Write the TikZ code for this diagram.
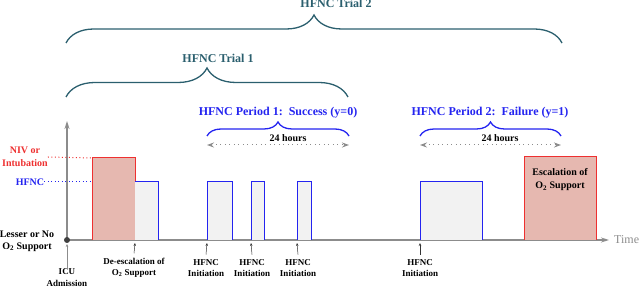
\documentclass[tikz,border=0pt]{standalone}
\usepackage{fontspec}
\setmainfont{Liberation Serif}
\usetikzlibrary{positioning}
\usetikzlibrary{arrows.meta}
\usetikzlibrary{decorations.pathreplacing}

\definecolor{trialc}{HTML}{2B5F6E}
\definecolor{hfncblue}{HTML}{2424F0}
\definecolor{nivred}{HTML}{EE3030}
\definecolor{nivfill}{HTML}{E6B8B0}
\definecolor{hfncfill}{HTML}{F2F2F2}
\definecolor{axisgray}{HTML}{8C8C8C}

\begin{document}
\begin{tikzpicture}[x=1pt,y=-1pt,
  every node/.style={font=\bfseries\fontsize{10}{13}\selectfont,align=center,inner sep=0pt},
  small/.style={font=\bfseries\fontsize{9}{10.5}\selectfont},
  big/.style={font=\bfseries\fontsize{12}{14}\selectfont},
  trialbrace/.style={decorate,decoration={brace,amplitude=#1},draw=trialc,line width=1.3pt},
  periodbrace/.style={decorate,decoration={brace,amplitude=14pt},draw=hfncblue,line width=1.3pt},
  hfncbox/.style={fill=hfncfill,draw=hfncblue,line width=1pt},
  nivbox/.style={fill=nivfill,draw=nivred,line width=1pt},
  lvl/.style={line width=1pt,dash pattern=on 1pt off 2.5pt},
  hrs/.style={axisgray,line width=1pt,dash pattern=on 1pt off 3.5pt,{Stealth[length=7pt,width=5pt]}-{Stealth[length=7pt,width=5pt]}},
  tick/.style={-{Stealth[length=3pt,width=2.5pt]},line width=0.5pt,black!80}]
			\useasboundingbox (0,0) rectangle (640,288);
			% axes
			\coordinate (o) at (67,240);
			\coordinate (tm) at (609,240);
			\coordinate (up) at (67,121);
			\draw[axisgray,line width=1.3pt,-{Stealth[length=8pt,width=5pt]}] (o) -- (tm);
			\draw[axisgray,line width=1.3pt,-{Stealth[length=8pt,width=5pt]}] (o) -- (up);
			\node[anchor=west,font=\fontsize{12}{14}\selectfont,text=axisgray,right=5pt of tm] (time) {Time};
			\fill[black!75] (o) circle (3pt);
			% levels
			\node[text=nivred] (niv) at (25,157) {NIV or\\Intubation};
			\node[text=hfncblue] (hf) at (30,182) {HFNC};
			\node[font=\bfseries\fontsize{10}{12}\selectfont] (low) at (27,241) {Lesser or No\\O\textsubscript{2} Support};
			\draw[nivred,lvl] (niv.east) -- (92,158);
			\draw[hfncblue,lvl] (hf.east) -- (135,182);
			% boxes
			\fill[nivfill] (92,158) rectangle (135,240);
			\fill[hfncfill] (135,182) rectangle (158,240);
			\draw[nivred,line width=1pt] (92,240) -- (92,158) -- (135,158) -- (135,182);
			\draw[hfncblue,line width=1pt] (135,182) -- (158,182) -- (158,240);
			\filldraw[hfncbox] (207,240) -- (207,182) -- (232,182) -- (232,240);
			\filldraw[hfncbox] (251,240) -- (251,182) -- (264,182) -- (264,240);
			\filldraw[hfncbox] (297,240) -- (297,182) -- (311,182) -- (311,240);
			\filldraw[hfncbox] (420,240) -- (420,182) -- (482,182) -- (482,240);
			\filldraw[nivbox] (524,240) -- (524,157) -- (596,157) -- (596,240);
			\node (esc) at (560,180) {Escalation of\\O\textsubscript{2} Support};
			% bottom labels
			\node[small,font=\bfseries\fontsize{9}{12}\selectfont] (icu) at (67,278) {ICU\\Admission};
			\node[small] (de) at (134,268) {De-escalation of\\O\textsubscript{2} Support};
			\node[small] (i1) at (206,268) {HFNC\\Initiation};
			\node[small] (i2) at (252,268) {HFNC\\Initiation};
			\node[small] (i3) at (298,268) {HFNC\\Initiation};
			\node[small] (i4) at (420,268) {HFNC\\Initiation};
			\draw[tick,black!45] (icu.north) -- (67,244);
			\draw[tick] ([yshift=5pt]de.north) -- (135,243);
			\draw[tick] ([yshift=5pt]i1.north) -- (207,243);
			\draw[tick] ([yshift=5pt]i2.north) -- (251,243);
			\draw[tick] ([yshift=5pt]i3.north) -- (297,243);
			\draw[tick] ([yshift=5pt]i4.north) -- (420,243);
			% trials
			\draw[trialbrace=28pt] (66,43) -- (562,43);
			\node[big,text=trialc,anchor=base] (t2) at (336,8) {HFNC Trial 2};
			\draw[trialbrace=29pt] (66,97) -- (348,97);
			\node[big,text=trialc,anchor=base] (t1) at (218,63) {HFNC Trial 1};
			% periods
			\draw[periodbrace] (207,136) -- (349,136);
			\node[big,text=hfncblue,anchor=base] (p1) at (278,116) {HFNC Period 1:\ \ Success (y=0)};
			\draw[periodbrace] (420,136) -- (561,136);
			\node[big,text=hfncblue,anchor=base] (p2) at (490,116) {HFNC Period 2:\ \ Failure (y=1)};
			\coordinate (p1l) at (207,145);
			\coordinate (p1r) at (349,145);
			\coordinate (p2l) at (420,145);
			\coordinate (p2r) at (561,145);
			\draw[hrs] (p1l) -- (p1r);
			\draw[hrs] (p2l) -- (p2r);
			\node[anchor=base] (h1) at (288,142) {24 hours};
			\node[anchor=base] (h2) at (500,142) {24 hours};
		\end{tikzpicture}
\end{document}
